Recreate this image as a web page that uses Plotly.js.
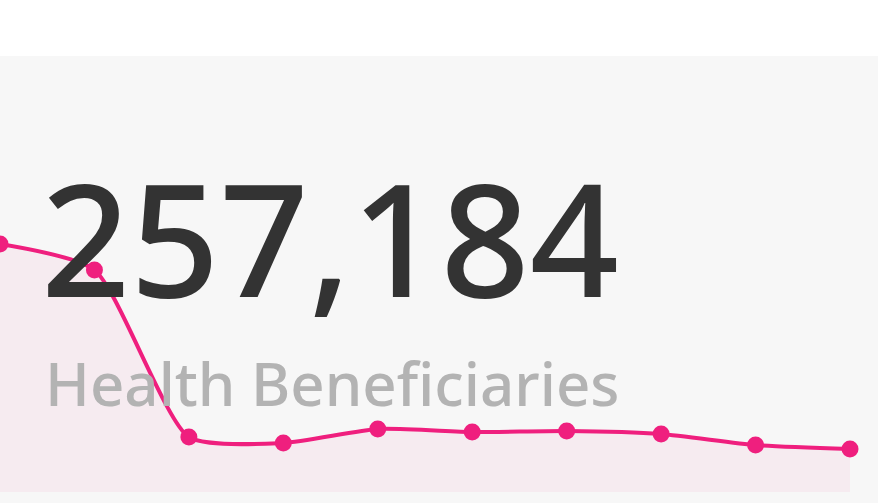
<!DOCTYPE html>
<html>
<head>
<meta charset="utf-8">
<script src="https://cdn.plot.ly/plotly-3.0.1.min.js"></script>
<style>
  html, body { margin: 0; padding: 0; background: #ffffff; }
  #chart { width: 891px; height: 503px; }
</style>
</head>
<body>
<div id="chart"></div>
<script>
// Data
const periods = [1, 2, 3, 4, 5, 6, 7, 8, 9, 10];
const beneficiaries = [248, 222, 55, 49, 63, 60, 61, 58, 47, 43];
const kpiValue = "257,184";
const kpiLabel = "Health Beneficiaries";

const pink = "#EF1F7E";

const trace = {
  x: periods,
  y: beneficiaries,
  type: "scatter",
  mode: "lines+markers",
  line: { color: pink, width: 4, shape: "spline", smoothing: 0.6 },
  marker: { color: pink, size: 17 },
  fill: "tozeroy",
  fillcolor: "rgba(240,30,125,0.056)",
  cliponaxis: false,
  hoverinfo: "skip"
};

const layout = {
  width: 891,
  height: 503,
  margin: { l: 0, r: 41, t: 56, b: 11, pad: 0 },
  paper_bgcolor: "#ffffff",
  plot_bgcolor: "rgba(0,0,0,0)",
  showlegend: false,
  xaxis: { visible: false, range: [1, 10], fixedrange: true },
  yaxis: { visible: false, range: [0, 436], fixedrange: true },
  shapes: [{
    type: "rect", xref: "paper", yref: "paper",
    x0: 0, x1: 878 / 850, y0: -11 / 436, y1: 1,
    fillcolor: "#f7f7f7", line: { width: 0 }, layer: "below"
  }],
  annotations: [
    {
      text: kpiValue, xref: "paper", yref: "paper",
      x: 0.046, y: 0.585, xanchor: "left", yanchor: "middle",
      showarrow: false,
      font: { family: "Noto Sans, sans-serif", size: 156, weight: 500, color: "#333333" }
    },
    {
      text: kpiLabel, xref: "paper", yref: "paper",
      x: 0.05, y: 0.25, xanchor: "left", yanchor: "middle",
      showarrow: false,
      font: { family: "Noto Sans, sans-serif", size: 60, weight: 500, color: "#b3b3b3" }
    }
  ]
};

Plotly.newPlot("chart", [trace], layout, { displayModeBar: false, staticPlot: true });
</script>
</body>
</html>
